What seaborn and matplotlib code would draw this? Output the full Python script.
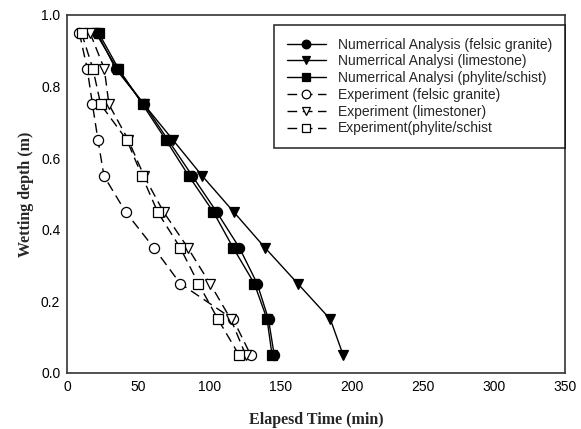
import matplotlib
matplotlib.use("Agg")
import matplotlib.pyplot as plt
import seaborn as sns
import pandas as pd

depth = [0.95, 0.85, 0.75, 0.65, 0.55, 0.45, 0.35, 0.25, 0.15, 0.05]
num_felsic = [21, 34, 54, 71, 88, 105, 121, 133.5, 141.5, 145.5]
num_limestone = [20, 35, 54, 74.5, 95, 117, 139, 162, 185, 194]
num_phylite = [22, 36, 53, 69.5, 85.5, 102.7, 116.6, 131.5, 140.5, 144]
exp_felsic = [8.5, 14, 17.7, 21.6, 25.8, 41, 60.8, 79.4, 116.6, 129]
exp_limestone = [16, 26, 29.3, 43, 54, 67.7, 84.7, 100.3, 115, 125.5]
exp_phylite = [10, 18, 23.5, 42, 52.6, 63.5, 79.4, 92.2, 106, 120.8]

labels = [
    "Numerrical Analysis (felsic granite)",
    "Numerrical Analysi (limestone)",
    "Numerrical Analysi (phylite/schist)",
    "Experiment (felsic granite)",
    "Experiment (limestoner)",
    "Experiment(phylite/schist",
]
series = [num_felsic, num_limestone, num_phylite, exp_felsic, exp_limestone, exp_phylite]
markers = ["o", "v", "s", "o", "v", "s"]
filled = [True, True, True, False, False, False]

sns.set_style("white")
plt.rcParams["font.family"] = ["Liberation Sans", "DejaVu Sans"]

fig = plt.figure(figsize=(5.81, 4.29), dpi=100)
ax = fig.add_axes([67.3 / 581, (429 - 373) / 429, (565 - 67.3) / 581, (373 - 15) / 429])

for vals, lab, mk, fl in zip(series, labels, markers, filled):
    df = pd.DataFrame({"time": vals, "depth": depth})
    sns.lineplot(
        data=df, x="time", y="depth", ax=ax, sort=False, estimator=None,
        color="black", linewidth=1.0,
        linestyle="-" if fl else (0, (7, 4)),
        marker=mk, markersize=7.3,
        markerfacecolor="black" if fl else "white",
        markeredgecolor="black", markeredgewidth=0.9,
        label=lab,
    )

ax.set_xlim(0, 350)
ax.set_ylim(0, 1.0)
ax.set_xticks(range(0, 351, 50))
ax.set_yticks([0.0, 0.2, 0.4, 0.6, 0.8, 1.0])
ax.set_yticklabels(["0.0", "0.2", "0.4", "0.6", "0.8", "1.0"])
ax.tick_params(direction="in", length=4, width=1, colors="black", labelsize=10, pad=5)
for s in ax.spines.values():
    s.set_color("#333333")
    s.set_linewidth(1.2)

ax.set_xlabel("Elapesd Time (min)", fontfamily="Liberation Serif", fontweight="bold",
              fontsize=11.5, labelpad=13)
ax.set_ylabel("Wetting depth (m)", fontfamily="Liberation Serif", fontweight="bold",
              fontsize=11.5, labelpad=5)

leg = ax.legend(loc="upper right", bbox_to_anchor=(1.0, 0.972), frameon=True,
                fancybox=False, shadow=False, fontsize=10, handlelength=2.8,
                handletextpad=0.9, labelspacing=0.2, borderpad=0.9, borderaxespad=0,
                markerscale=0.85)
leg.get_frame().set_edgecolor("black")
leg.get_frame().set_linewidth(1.2)

fig.savefig("out.png", dpi=100)
